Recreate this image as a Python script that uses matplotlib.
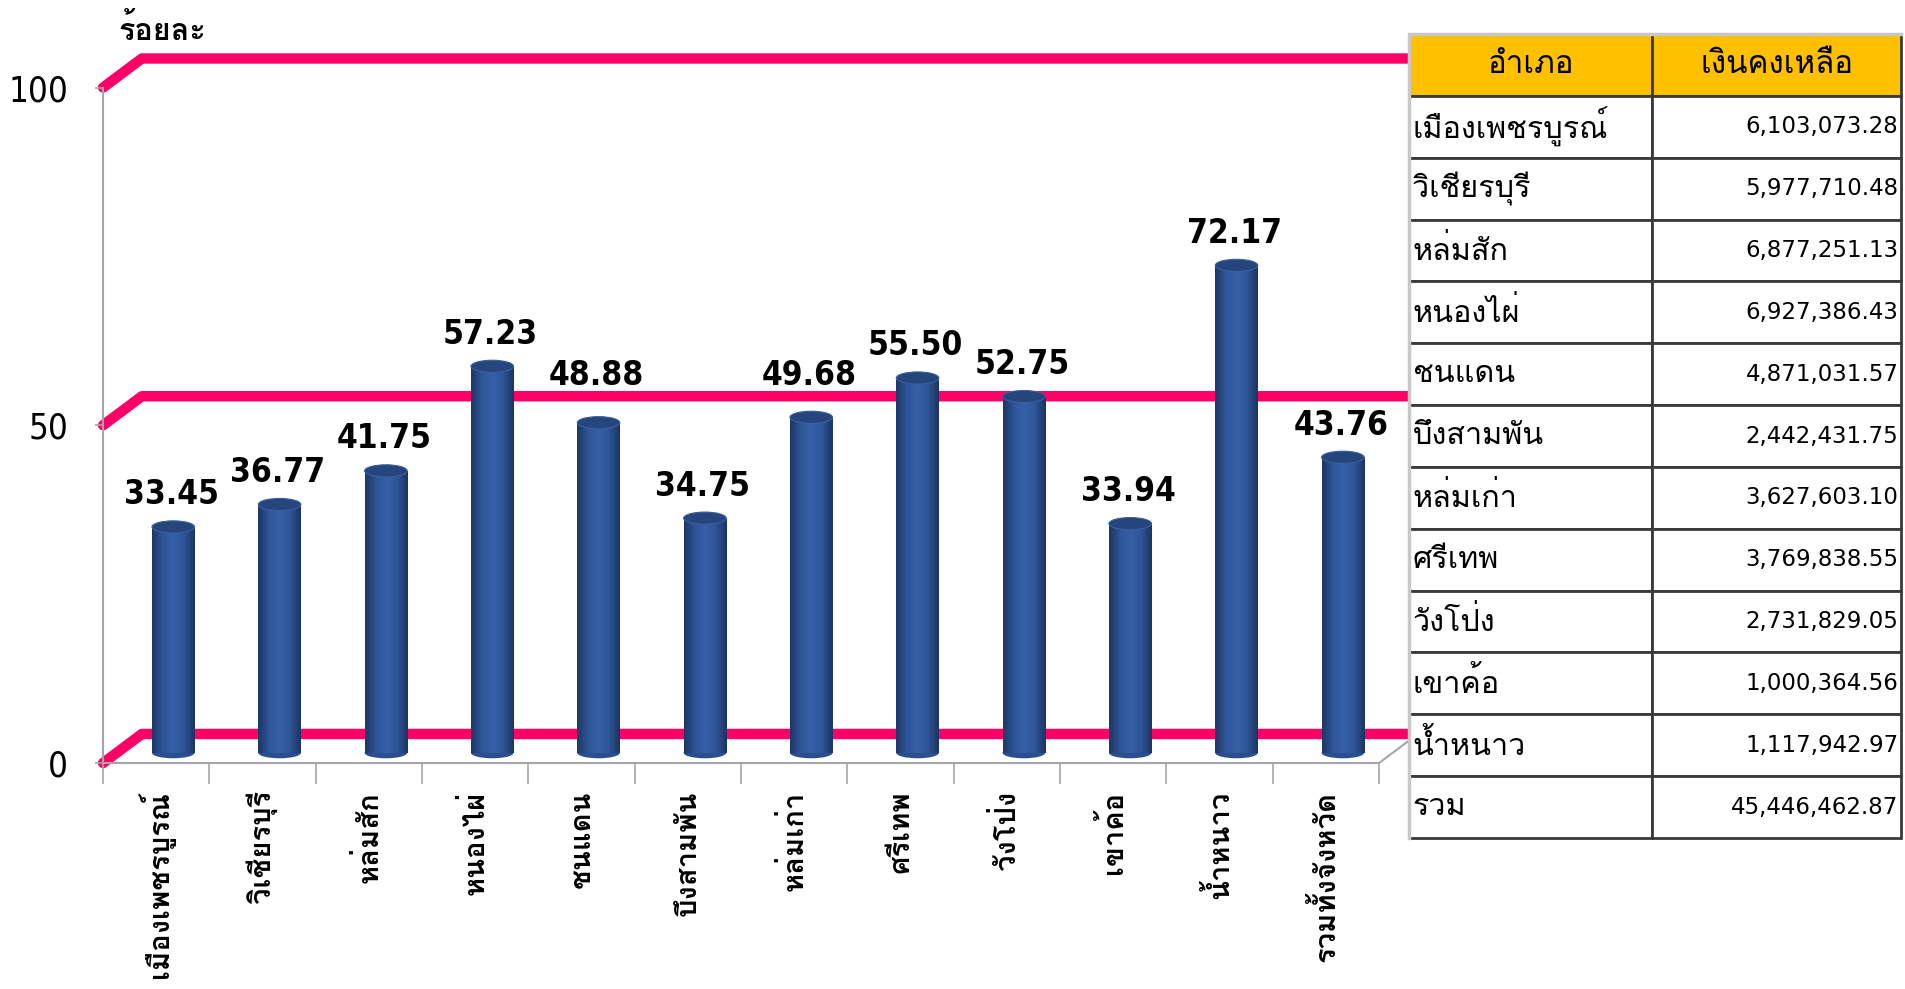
import numpy as np
import matplotlib
matplotlib.use('Agg')
import matplotlib.pyplot as plt
from matplotlib import font_manager
from matplotlib.ft2font import FT2Font
from matplotlib.colors import LinearSegmentedColormap
from matplotlib.patches import Ellipse, Rectangle

# ข้อมูลอำเภอ
districts = ['เมืองเพชรบูรณ์', 'วิเชียรบุรี', 'หล่มสัก', 'หนองไผ่', 'ชนแดน',
             'บึงสามพัน', 'หล่มเก่า', 'ศรีเทพ', 'วังโป่ง', 'เขาค้อ', 'น้ำหนาว',
             'รวมทั้งจังหวัด']
percent = [33.45, 36.77, 41.75, 57.23, 48.88, 34.75, 49.68, 55.50, 52.75,
           33.94, 72.17, 43.76]
y_ticks = [0, 50, 100]

table_header = ['อำเภอ', 'เงินคงเหลือ']
table_names = ['เมืองเพชรบูรณ์', 'วิเชียรบุรี', 'หล่มสัก', 'หนองไผ่', 'ชนแดน',
               'บึงสามพัน', 'หล่มเก่า', 'ศรีเทพ', 'วังโป่ง', 'เขาค้อ', 'น้ำหนาว',
               'รวม']
balance = [6103073.28, 5977710.48, 6877251.13, 6927386.43, 4871031.57,
           2442431.75, 3627603.10, 3769838.55, 2731829.05, 1000364.56,
           1117942.97, 45446462.87]


def find_thai_font():
    # หาฟอนต์ที่มีตัวอักษรไทย
    for f in font_manager.fontManager.ttflist:
        try:
            if ord('ก') in FT2Font(f.fname).get_charmap():
                return f.name
        except Exception:
            pass
    return 'DejaVu Sans'


def find_narrow_font():
    # ฟอนต์ตัวแคบสำหรับตัวเลข (ถ้ามี)
    for f in font_manager.fontManager.ttflist:
        if f.stretch in ('condensed', 'semi-condensed', 'extra-condensed') \
                or 'Narrow' in f.name or 'Condensed' in f.name:
            return f.name, f.stretch
    return 'DejaVu Sans', 'normal'


thai = find_thai_font()
thai_fam = [thai, 'DejaVu Sans']
narrow, narrow_stretch = find_narrow_font()
num_fam = [narrow, 'DejaVu Sans']
plt.rcParams['font.family'] = thai_fam

pink = '#FF0066'
grid_gray = '#A6A6A6'
dx_wall, dy_wall = 0.365, 4.3      # 3D back-wall offset
dx_bar, dy_bar = 0.16, 1.5         # bar depth offset
bar_w = 0.40

fig = plt.figure(figsize=(19.05, 9.89), dpi=100)
ax = fig.add_axes([0.0541, 0.2285, 0.6698, 0.683])
n = len(percent)
ax.set_xlim(0, n)
ax.set_ylim(0, 100)
for s in ax.spines.values():
    s.set_visible(False)

# เส้นกริดสีชมพู (ผนังหลังแบบ 3 มิติ)
for v in y_ticks:
    ax.plot([0, dx_wall, n + dx_wall], [v, v + dy_wall, v + dy_wall],
            color=pink, lw=7.5, solid_capstyle='round', solid_joinstyle='round',
            clip_on=False, zorder=1)

# แกนและพื้น
ax.plot([0, 0], [0, 100], color=grid_gray, lw=1.5, clip_on=False, zorder=2)
ax.plot([0, n, n + dx_wall], [0, 0, dy_wall], color=grid_gray, lw=1.5,
        clip_on=False, zorder=2)

# แท่งทรงกระบอก
cyl = LinearSegmentedColormap.from_list(
    'cyl', ['#1D3766', '#2E5597', '#3760A8', '#2E5597', '#1C3563'])
grad = np.linspace(0, 1, 64).reshape(1, -1)
xc = np.arange(n) + 0.5
for i, v in enumerate(percent):
    x0 = xc[i] + dx_bar - bar_w / 2
    rect = Rectangle((x0, dy_bar), bar_w, v, facecolor='none', edgecolor='none')
    ax.add_patch(rect)
    im = ax.imshow(grad, cmap=cyl, aspect='auto', extent=[x0, x0 + bar_w, dy_bar, dy_bar + v],
                   zorder=3, interpolation='bilinear')
    im.set_clip_path(rect)
    ax.add_patch(Ellipse((xc[i] + dx_bar, dy_bar), bar_w, 1.6, facecolor='#2A4F8E',
                         edgecolor='none', zorder=2.9))
    ax.add_patch(Ellipse((xc[i] + dx_bar, dy_bar + v), bar_w, 1.8, facecolor='#26457D',
                         edgecolor='#3A5F9F', lw=0.8, zorder=4))
    # ป้ายค่า: ยกขึ้นเหนือเส้น 50 ถ้าจะทับเส้น
    ly = dy_bar + v + 2.3
    if 50 + dy_wall - 4.5 < ly < 50 + dy_wall + 0.6:
        ly = 50 + dy_wall + 0.6
    ax.text(xc[i] + dx_bar - 0.02, ly, f'{v:.2f}', ha='center', va='bottom',
            fontsize=24, fontweight='bold', family=num_fam, stretch=narrow_stretch,
            zorder=5)

ax.set_xticks(np.arange(n + 1))
ax.set_xticklabels([])
ax.tick_params(axis='x', which='major', length=15, width=1.2, color=grid_gray)
ax.set_xticks(xc, minor=True)
ax.set_xticklabels(districts, minor=True, rotation=90, fontsize=21,
                   fontweight='bold')
ax.tick_params(axis='x', which='minor', length=0, pad=20)

ax.set_yticks(y_ticks)
ax.set_yticklabels([str(t) for t in y_ticks], family=num_fam, fontsize=25,
                   stretch=narrow_stretch)
ax.tick_params(axis='y', length=6, width=1.2, color=grid_gray, pad=19)

fig.text(118 / 1905, 1 - 30 / 989, 'ร้อยละ', fontsize=22, fontweight='bold',
         ha='left', va='center')

# ตารางเงินคงเหลือ
tax = fig.add_axes([1409 / 1905, 151 / 989, 492 / 1905, 804 / 989])
tax.set_xlim(0, 1)
tax.set_ylim(0, 1)
tax.axis('off')
rows = [[nm, f'{b:,.2f}'] for nm, b in zip(table_names, balance)]
tbl = tax.table(cellText=rows, colLabels=table_header, bbox=[0, 0, 1, 1],
                cellLoc='right', colLoc='center', colWidths=[0.494, 0.506])
tbl.auto_set_font_size(False)
tbl.set_fontsize(17)
for (r, c), cell in tbl.get_celld().items():
    cell.set_edgecolor('#3A3A3A')
    cell.set_linewidth(2)
    if r == 0:
        cell.set_facecolor('#FFC000')
        cell.get_text().set_fontsize(22.5)
    elif c == 0:
        cell._loc = 'left'
        cell.PAD = 0.015
        cell.get_text().set_ha('left')
        cell.get_text().set_fontsize(22)
    else:
        cell.PAD = 0.01
        cell.get_text().set_family(['DejaVu Sans'])
        cell.get_text().set_fontsize(16.5)
# ขอบซ้ายและขอบบนสีเทาอ่อน
tax.plot([0, 0, 1], [0, 1, 1], color='#C8C8C8', lw=2.5, clip_on=False, zorder=20)

fig.savefig('out.png', dpi=100)
